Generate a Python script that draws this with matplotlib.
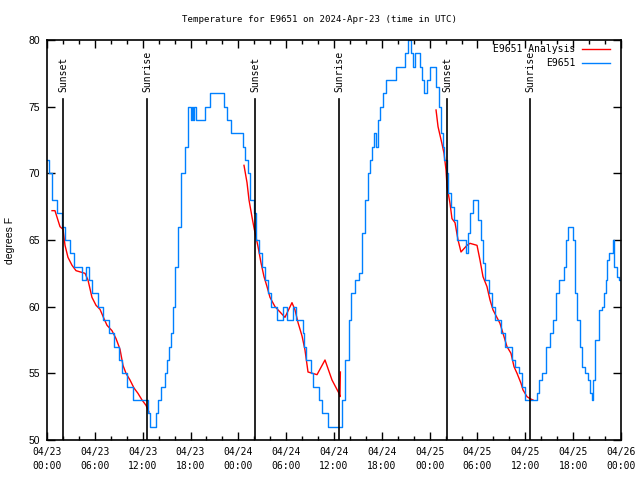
import matplotlib
matplotlib.use("Agg")
import matplotlib.pyplot as plt
from matplotlib.ticker import MultipleLocator, FuncFormatter
import numpy as np
import datetime as dt

# ---------------- data ----------------
start = dt.datetime(2024, 4, 23, 0, 0)

# observed station series (hours since start, deg F)
obs_hours = [0.0, 0.38, 0.75, 1.13, 1.38, 1.63, 2.01, 2.51, 3.14, 3.51, 4.14, 4.64, 5.14, 5.39,
             6.02, 6.65, 7.40, 8.15, 8.78, 9.16, 9.66, 10.41, 11.29, 12.54, 12.79, 13.05, 13.42,
             13.80, 14.17, 14.55, 14.93, 15.18, 15.43, 15.68, 15.93, 16.18, 16.56, 17.06, 17.56,
             17.81, 18.19, 18.31, 18.44, 18.56, 18.94, 19.57, 19.95, 20.20, 20.70, 21.95, 22.33,
             22.71, 23.33, 24.46, 24.59, 25.09, 25.21, 25.72, 26.09, 26.34, 26.72, 27.10, 27.60,
             27.85, 28.22, 28.80, 28.90, 29.48, 29.61, 29.98, 30.23, 30.73, 30.86, 31.11, 31.36,
             31.99, 32.11, 32.36, 32.61, 32.87, 33.24, 33.37, 33.87, 34.25, 34.62, 35.12, 35.37,
             37.00, 37.13, 37.63, 38.01, 38.38, 38.89, 39.26, 39.64, 40.14, 40.27, 40.64, 40.89,
             41.14, 41.39, 41.65, 41.90, 42.40, 42.77, 43.65, 43.90, 44.78, 45.03, 45.41, 45.79,
             46.04, 46.30, 46.54, 46.91, 47.16, 47.54, 47.79, 48.17, 48.55, 49.05, 49.30, 49.55,
             49.67, 50.05, 50.18, 50.43, 50.80, 51.18, 51.56, 52.43, 52.68, 52.93, 53.31, 53.68,
             53.94, 54.31, 54.57, 54.69, 55.19, 55.57, 55.95, 56.32, 56.82, 57.20, 57.70, 58.20,
             58.45, 58.96, 59.33, 59.71, 60.21, 61.46, 61.59, 61.84, 62.22, 62.47, 62.84, 63.34,
             63.72, 63.97, 64.60, 64.98, 65.23, 65.48, 65.86, 66.11, 66.36, 66.61, 66.99, 67.24,
             67.74, 67.86, 68.24, 68.36, 68.49, 68.61, 68.99, 69.37, 69.74, 69.99, 70.24, 70.37,
             70.50, 70.87, 71.00, 71.25, 71.50, 71.62, 71.87]
obs_temps = [71, 70, 68, 68, 67, 67, 66, 65, 64, 63, 63, 62, 63, 62,
             61, 60, 59, 58, 57, 56, 55, 54, 53, 53, 52, 51, 51,
             52, 53, 54, 55, 56, 57, 58, 60, 63, 66, 70, 72,
             75, 74, 75, 74, 75, 74, 74, 75, 75, 76, 76, 75,
             74, 73, 73, 72, 71, 70, 68, 67, 65, 64, 63, 62,
             61, 60, 60, 59, 59, 60, 60, 59, 59, 60, 60, 59,
             59, 58, 57, 56, 56, 55, 54, 54, 53, 52, 52, 51,
             51, 53, 56, 59, 61, 62, 62.5, 65.5, 68, 70, 71, 72,
             73, 72, 74, 75, 76, 77, 77, 78, 78, 79, 80, 79,
             78, 79, 79, 78, 77, 76, 77, 78, 78, 76.5, 75, 73,
             72, 71, 70, 68.5, 67.5, 66.5, 65, 65, 64, 65.5, 67, 68,
             68, 66.5, 65, 63.3, 62, 61, 60, 59, 59, 58, 57, 57,
             56, 55.5, 55, 54, 53, 53, 53.5, 54.5, 55, 55, 57, 58,
             59, 61, 62, 63, 65, 66, 66, 65, 61, 59, 57, 55.5,
             55, 54.5, 53.5, 53, 53, 54.5, 57.5, 59.75, 60, 61, 62, 63.5,
             64, 64, 65, 63, 63, 62.2, 62]

# analysis series, three separate runs
ana1_hours = [0.63, 1.00, 1.63, 2.01, 2.26, 2.63, 3.14, 3.64, 4.77, 5.14, 5.64, 6.15, 6.65,
              7.15, 7.53, 8.15, 8.66, 9.16, 9.53, 9.91, 10.41, 10.91, 11.41, 11.92, 12.42, 12.79]
ana1_temps = [67.2, 67.2, 66, 65.8, 64.6, 63.7, 63.1, 62.7, 62.5, 62, 60.7, 60.1, 59.8,
              59.1, 58.6, 58.2, 57.6, 56.8, 55.6, 55, 54.5, 53.9, 53.5, 53, 52.6, 52.1]
ana2_hours = [24.71, 25.09, 25.34, 25.72, 25.97, 26.22, 26.47, 26.84, 27.22, 27.60, 27.97,
              28.60, 29.23, 29.85, 30.73, 31.11, 31.49, 31.99, 32.36, 32.74, 33.87, 34.87,
              35.75, 36.63, 36.75, 36.80]
ana2_temps = [70.6, 69.3, 68, 66.7, 65.9, 65.2, 64.5, 63.3, 62.25, 61.5, 60.7,
              60, 59.6, 59.2, 60.3, 59.75, 58.8, 57.8, 56.75, 55.1, 54.9, 56,
              54.5, 53.5, 53.25, 55.1]
ana3_hours = [48.80, 49.05, 49.55, 49.80, 50.05, 50.18, 50.55, 50.80, 51.18, 51.56, 51.93,
              52.68, 53.06, 53.94, 54.31, 54.69, 55.19, 55.57, 55.95, 56.82, 57.20, 57.70,
              58.20, 58.58, 58.96, 59.46, 59.71, 60.21, 60.59, 60.96]
ana3_temps = [74.75, 73.5, 72.2, 71.5, 70.25, 69, 67.75, 66.6, 66.3, 65, 64.1,
              64.6, 64.75, 64.6, 63.5, 62.25, 61.5, 60.5, 59.75, 58.75, 58, 57,
              56.5, 55.5, 55, 54.25, 53.75, 53.25, 53.1, 53]

sun_hours = [2.04, 12.58, 26.09, 36.67, 50.21, 60.63]
sun_labels = ["Sunset", "Sunrise", "Sunset", "Sunrise", "Sunset", "Sunrise"]

title = "Temperature for E9651 on 2024-Apr-23 (time in UTC)"
station_label = "E9651"
analysis_label = "E9651 Analysis"

# ---------------- plot ----------------
mono = "DejaVu Sans Mono"
fs = 7

fig = plt.figure(figsize=(6.4, 4.8), dpi=100)
ax = fig.add_axes([47/640, 40/480, 574/640, 400/480])

red = "#ff0000"
blue = "#0080ff"
lw = 1.0

h_ana, = ax.plot(ana1_hours, ana1_temps, color=red, lw=lw, label=analysis_label)
ax.plot(ana2_hours, ana2_temps, color=red, lw=lw)
ax.plot(ana3_hours, ana3_temps, color=red, lw=lw)
h_obs, = ax.plot(obs_hours, obs_temps, color=blue, lw=lw, label=station_label,
                 drawstyle="steps-mid")

for xh, lab in zip(sun_hours, sun_labels):
    ax.plot([xh, xh], [0, 0.8525], color="black", lw=1.2,
            transform=ax.get_xaxis_transform())
    ax.text(xh, 0.87, lab, rotation=90, ha="center", va="bottom",
            transform=ax.get_xaxis_transform(), fontsize=fs, family=mono)

ax.set_xlim(0, 72)
ax.set_ylim(50, 80)

ax.xaxis.set_major_locator(MultipleLocator(6))
ax.xaxis.set_minor_locator(MultipleLocator(2))
ax.yaxis.set_major_locator(MultipleLocator(5))

def fmt(x, pos):
    t = start + dt.timedelta(hours=x)
    return t.strftime("%m/%d\n%H:%M")

ax.xaxis.set_major_formatter(FuncFormatter(fmt))

ax.tick_params(which="both", direction="in", top=True, right=True, width=1, color="black")
ax.tick_params(which="major", length=6)
ax.tick_params(which="minor", length=3)
ax.tick_params(axis="x", pad=5, labelsize=fs)
ax.tick_params(axis="y", pad=5, labelsize=fs)
for lab in ax.get_xticklabels():
    lab.set_family(mono)
    lab.set_linespacing(1.45)
for lab in ax.get_yticklabels():
    lab.set_family("Liberation Sans")
    lab.set_fontsize(7.5)

for sp in ax.spines.values():
    sp.set_linewidth(1.2)

ax.set_ylabel("degrees F", fontsize=7.5, family="Liberation Sans")
ax.yaxis.set_label_coords(-0.056, 0.5)

fig.text(0.5, 1 - 20/480, title, ha="center", va="center", fontsize=6.6, family=mono)

leg = ax.legend(handles=[h_ana, h_obs], loc="upper right", bbox_to_anchor=(0.981, 0.99),
                frameon=False, markerfirst=False, handlelength=2.9, handletextpad=0.7,
                borderaxespad=0, borderpad=0, labelspacing=0.45,
                prop={"family": mono, "size": fs})

fig.savefig("out.png", dpi=100)
